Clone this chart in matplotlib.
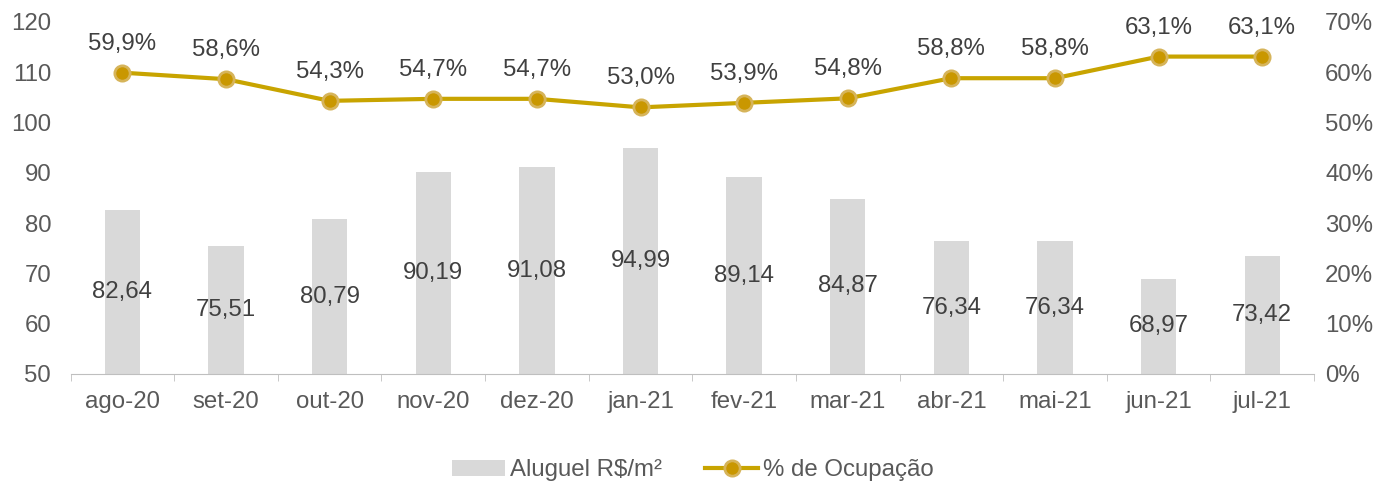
import matplotlib
matplotlib.use('Agg')
import matplotlib.pyplot as plt
import numpy as np
from matplotlib.ticker import FuncFormatter

plt.rcParams['font.family'] = ['Liberation Sans', 'DejaVu Sans']

meses = ['ago-20', 'set-20', 'out-20', 'nov-20', 'dez-20', 'jan-21',
         'fev-21', 'mar-21', 'abr-21', 'mai-21', 'jun-21', 'jul-21']
aluguel = [82.64, 75.51, 80.79, 90.19, 91.08, 94.99, 89.14, 84.87, 76.34, 76.34, 68.97, 73.42]
ocupacao = [59.9, 58.6, 54.3, 54.7, 54.7, 53.0, 53.9, 54.8, 58.8, 58.8, 63.1, 63.1]

cor_texto = '#595959'
cor_barra = '#D9D9D9'
cor_linha = '#C8A400'
fs = 17.3

fig = plt.figure(figsize=(13.86, 4.86), dpi=100)
ax = fig.add_axes([0.051, 0.2305, 0.897, 0.7245])
ax2 = ax.twinx()

x = np.arange(len(meses))
barras = ax.bar(x, np.array(aluguel) - 50, bottom=50, width=0.34, color=cor_barra, label='Aluguel R$/m²', zorder=1)
ax.set_ylim(50, 120)
ax.set_xlim(-0.5, len(meses) - 0.5)
ax.set_yticks(range(50, 121, 10))
ax.set_xticks(x)
ax.set_xticklabels(meses)
for xi, v in zip(x, aluguel):
    ax.text(xi, (50 + v) / 2, f'{v:.2f}'.replace('.', ','), ha='center', va='center',
            fontsize=fs, color='#404040')

linha, = ax2.plot(x, ocupacao, color=cor_linha, lw=3, marker='o', markersize=11,
                  markerfacecolor='#C99700', markeredgecolor='#D6B45A', markeredgewidth=2,
                  label='% de Ocupação', zorder=3)
ax2.set_ylim(0, 70)
ax2.set_yticks(range(0, 71, 10))
ax2.yaxis.set_major_formatter(FuncFormatter(lambda v, p: f'{v:.0f}%'))
for xi, v in zip(x, ocupacao):
    ax2.annotate(f'{v:.1f}%'.replace('.', ','), (xi, v), xytext=(0, 13), textcoords='offset points',
                 ha='center', va='bottom', fontsize=fs, color='#404040')

for a in (ax, ax2):
    for s in ('top', 'left', 'right'):
        a.spines[s].set_visible(False)
    a.spines['bottom'].set_color('#BFBFBF')
    a.tick_params(axis='y', length=0, labelsize=fs, labelcolor=cor_texto)
ax.tick_params(axis='y', pad=14)
ax2.tick_params(axis='y', pad=8)
ax.tick_params(axis='x', length=0, labelsize=fs, labelcolor=cor_texto, pad=12)
ax2.spines['bottom'].set_visible(False)
ax.set_xticks(np.arange(-0.5, len(meses), 1), minor=True)
ax.tick_params(axis='x', which='minor', length=5, color='#BFBFBF')

fig.legend([barras, linha], ['Aluguel R$/m²', '% de Ocupação'], loc='center', bbox_to_anchor=(0.5, 0.032),
           ncol=2, frameon=False, fontsize=fs, labelcolor=cor_texto, handlelength=2.2, handleheight=0.6,
           columnspacing=1.8, handletextpad=0.2)

fig.savefig('out.png', dpi=100)
